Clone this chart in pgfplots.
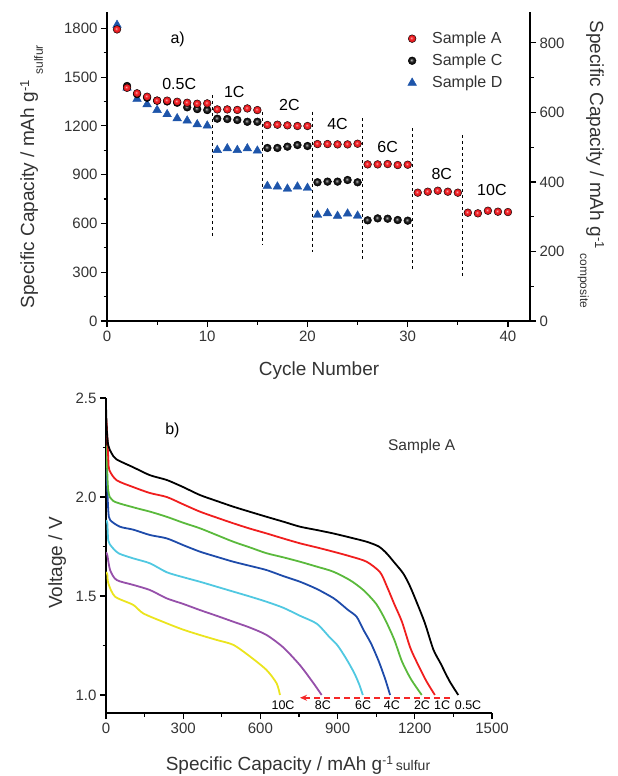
\documentclass[border=0pt]{standalone}
\usepackage{fontspec}
\setmainfont{Liberation Sans}
\usepackage{pgfplots}
\pgfplotsset{compat=1.18}
\usetikzlibrary{arrows.meta}
\definecolor{textgray}{RGB}{51,51,51}
\definecolor{aRed}{RGB}{240,30,35}
\definecolor{dBlue}{RGB}{30,85,170}
\definecolor{cOne}{RGB}{240,30,30}
\definecolor{cTwo}{RGB}{90,185,60}
\definecolor{cFour}{RGB}{30,75,170}
\definecolor{cSix}{RGB}{80,200,225}
\definecolor{cEight}{RGB}{150,80,170}
\definecolor{cTen}{RGB}{235,228,30}
\definecolor{arrowRed}{RGB}{245,40,40}

% glossy sphere marks, lighter than the stock ball shading
\pgfdeclareradialshading{redsphere}{\pgfpoint{-6bp}{6bp}}{%
  color(0bp)=(white!70!aRed); color(5bp)=(aRed!75!white); color(12bp)=(aRed);
  color(21bp)=(aRed!90!black); color(25bp)=(aRed!78!black); color(50bp)=(aRed!78!black)}
\pgfdeclareradialshading{blacksphere}{\pgfpoint{-6bp}{6bp}}{%
  color(0bp)=(white!80!black); color(5bp)=(black!55); color(12bp)=(black!85);
  color(25bp)=(black); color(50bp)=(black)}
\pgfdeclareplotmark{redsphere}{\shade[shading=redsphere] (0pt,0pt) circle (\pgfplotmarksize);}
\pgfdeclareplotmark{blacksphere}{\shade[shading=blacksphere] (0pt,0pt) circle (\pgfplotmarksize);}

\pgfplotsset{
  every axis/.append style={
    scale only axis,
    axis line style={line width=1.2pt, black},
    tick style={line width=1.1pt, black},
    tick align=outside,
    major tick length=6pt, minor tick length=3.5pt,
    tick label style={font=\fontsize{15}{18}\selectfont, text=textgray},
    /pgf/number format/assume math mode=true,
    /pgf/number format/1000 sep={},
  },
  curve/.style={line width=1.8pt, smooth, tension=0.45},
}
\newcommand{\ann}{\fontsize{16}{19}\selectfont\color{black}}
\newcommand{\lab}{\fontsize{19}{22}\selectfont\color{textgray}}

\begin{document}
\begin{tikzpicture}
\useasboundingbox (0pt,0pt) rectangle (618pt,-776pt);

% ---------- a) rate capability ----------
\begin{axis}[
  at={(107pt,-321pt)}, anchor=south west,
  width=423pt, height=309pt,
  xmin=0, xmax=42.2, ymin=0, ymax=1900,
  axis x line*=bottom, axis y line*=left,
  xtick={0,10,...,40}, minor x tick num=1,
  ytick={0,300,...,1800}, minor y tick num=1,
  reverse legend, legend cell align=left,
  legend image code/.code={\path[draw=none, fill=none] (0pt,0pt) -- (26pt,0pt);
    \draw[#1, only marks, mark repeat=2, mark phase=2] plot coordinates {(0pt,0pt) (8pt,0pt) (16pt,0pt)};},
  legend style={at={(rel axis cs:0.702,0.942)}, anchor=north west,
    draw=none, fill=none, inner sep=0pt, row sep=5pt,
    font=\fontsize{16}{19}\selectfont, text=textgray},
]
% rate-change markers
\addplot[forget plot, black, line width=0.9pt, dash pattern=on 3pt off 3pt] coordinates {(10.5,1390) (10.5,523)};
\addplot[forget plot, black, line width=0.9pt, dash pattern=on 3pt off 3pt] coordinates {(15.5,1287) (15.5,471)};
\addplot[forget plot, black, line width=0.9pt, dash pattern=on 3pt off 3pt] coordinates {(20.5,1287) (20.5,422)};
\addplot[forget plot, black, line width=0.9pt, dash pattern=on 3pt off 3pt] coordinates {(25.5,1246) (25.5,379)};
\addplot[forget plot, black, line width=0.9pt, dash pattern=on 3pt off 3pt] coordinates {(30.5,1185) (30.5,318)};
\addplot[forget plot, black, line width=0.9pt, dash pattern=on 3pt off 3pt] coordinates {(35.5,1144) (35.5,272)};

% Sample D
\addplot[only marks, mark=triangle*, mark size=5pt, color=dBlue, mark options={draw=dBlue, fill=dBlue}] coordinates {
  (1,1820) (2,1434) (3,1365) (4,1332) (5,1297) (6,1271) (7,1246) (8,1232) (9,1209) (10,1201)
  (11,1051) (12,1061) (13,1051) (14,1061) (15,1047)
  (16,830) (17,826) (18,813) (19,826) (20,818)
  (21,652) (22,662) (23,646) (24,660) (25,647)
};
\addlegendentry{Sample D}
% Sample C
\addplot[only marks, mark=blacksphere, mark size=3.9pt] coordinates {
  (2,1445) (3,1395) (4,1373) (5,1355) (6,1350) (7,1342) (8,1314) (9,1303) (10,1297)
  (11,1244) (12,1242) (13,1236) (14,1225) (15,1225)
  (16,1064) (17,1064) (18,1072) (19,1082) (20,1076)
  (21,853) (22,857) (23,857) (24,867) (25,853)
  (26,619) (27,631) (28,629) (29,621) (30,617)
};
\addlegendentry{Sample C}
% Sample A
\addplot[only marks, mark=redsphere, mark size=3.9pt] coordinates {
  (1,1793) (2,1434) (3,1400) (4,1379) (5,1355) (6,1355) (7,1348) (8,1342) (9,1336) (10,1338)
  (11,1301) (12,1301) (13,1298) (14,1307) (15,1297)
  (16,1205) (17,1207) (18,1203) (19,1199) (20,1199)
  (21,1088) (22,1088) (23,1086) (24,1086) (25,1090)
  (26,963) (27,963) (28,965) (29,959) (30,961)
  (31,789) (32,795) (33,801) (34,795) (35,789)
  (36,666) (37,662) (38,678) (39,672) (40,670)
};
\addlegendentry{Sample A}

\node[font=\ann] at (axis cs:7.05,1731) {a)};
\node[font=\ann] at (axis cs:7.2,1457) {0.5C};
\node[font=\ann] at (axis cs:12.7,1408) {1C};
\node[font=\ann] at (axis cs:18.2,1328) {2C};
\node[font=\ann] at (axis cs:23.0,1211) {4C};
\node[font=\ann] at (axis cs:28.0,1070) {6C};
\node[font=\ann] at (axis cs:33.4,904) {8C};
\node[font=\ann] at (axis cs:38.4,805) {10C};
\end{axis}

\begin{axis}[
  at={(107pt,-321pt)}, anchor=south west,
  width=423pt, height=309pt,
  xmin=0, xmax=42.2, ymin=0, ymax=889,
  axis x line=none, axis y line*=right,
  ytick={0,200,...,800}, minor y tick num=1,
]
\addplot[draw=none] coordinates {(0,0)};
\end{axis}

% ---------- b) discharge profiles ----------
\begin{axis}[
  at={(106pt,-713pt)}, anchor=south west,
  width=386pt, height=315pt,
  xmin=0, xmax=1500, ymin=0.909, ymax=2.5,
  axis x line*=bottom, axis y line*=left,
  xtick={0,300,...,1500}, minor x tick num=1,
  ytick={1.0,1.5,2.0,2.5}, minor y tick num=1,
  yticklabel style={/pgf/number format/fixed, /pgf/number format/fixed zerofill, /pgf/number format/precision=1},
]
\addplot[curve, color=cTen] coordinates {
  (0,1.62) (5,1.61) (9,1.564) (35,1.497) (106,1.455) (145,1.412) (236,1.362) (300,1.33)
  (365,1.303) (430,1.278) (495,1.253) (560,1.194) (624,1.126) (663,1.059) (676,1.0)
};
\addplot[curve, color=cEight] coordinates {
  (0,1.72) (5,1.707) (16,1.631) (41,1.581) (106,1.556) (171,1.53) (236,1.488) (300,1.46)
  (365,1.429) (430,1.40) (495,1.37) (560,1.34) (624,1.303) (689,1.24) (754,1.15) (806,1.06) (838,1.0)
};
\addplot[curve, color=cSix] coordinates {
  (0,1.88) (5,1.87) (9,1.78) (22,1.749) (50,1.715) (106,1.69) (171,1.665) (236,1.62) (300,1.595)
  (365,1.572) (430,1.547) (495,1.522) (560,1.497) (624,1.471) (690,1.44) (754,1.40) (819,1.36)
  (870,1.29) (900,1.25) (935,1.18) (965,1.11) (985,1.05) (998,1.0)
};
\addplot[curve, color=cFour] coordinates {
  (0,2.14) (3,2.10) (9,1.93) (16,1.884) (54,1.85) (106,1.835) (171,1.808) (236,1.791) (300,1.757)
  (365,1.724) (430,1.698) (495,1.673) (560,1.652) (624,1.631) (690,1.60) (754,1.572) (820,1.535)
  (883,1.49) (910,1.463) (940,1.43) (974,1.395) (1000,1.33) (1030,1.26) (1060,1.17) (1085,1.08) (1104,1.0)
};
\addplot[curve, color=cTwo] coordinates {
  (0,2.26) (3,2.20) (9,2.03) (28,1.98) (106,1.948) (171,1.926) (236,1.90) (300,1.87) (365,1.842)
  (430,1.808) (495,1.774) (560,1.745) (624,1.716) (690,1.695) (754,1.673) (820,1.648) (883,1.623)
  (948,1.58) (1000,1.53) (1050,1.46) (1085,1.38) (1120,1.28) (1150,1.17) (1185,1.08) (1227,1.0)
};
\addplot[curve, color=cOne] coordinates {
  (0,2.40) (3,2.36) (9,2.19) (13,2.136) (41,2.085) (106,2.05) (171,2.02) (236,2.0) (300,1.963)
  (365,1.926) (430,1.896) (495,1.867) (560,1.84) (624,1.816) (690,1.79) (754,1.766) (820,1.745)
  (883,1.724) (950,1.70) (1013,1.673) (1065,1.62) (1091,1.55) (1120,1.46) (1150,1.37) (1182,1.24)
  (1210,1.16) (1245,1.07) (1278,1.0)
};
\addplot[curve, color=black] coordinates {
  (0,2.46) (3,2.34) (9,2.26) (22,2.22) (41,2.19) (106,2.15) (171,2.11) (236,2.086) (300,2.05)
  (365,2.01) (430,1.98) (495,1.951) (560,1.925) (624,1.90) (690,1.875) (754,1.85) (820,1.833)
  (883,1.816) (950,1.795) (1013,1.774) (1060,1.75) (1090,1.716) (1120,1.67) (1155,1.614)
  (1181,1.55) (1210,1.46) (1240,1.36) (1272,1.23) (1300,1.16) (1335,1.07) (1369,1.0)
};
\draw[draw=arrowRed, line width=1.5pt, dash pattern=on 6pt off 4pt,
      -{Stealth[length=7pt,width=6pt,fill=arrowRed]}]
  (axis cs:1337,0.986) -- (axis cs:754,0.986);
\node[font=\fontsize{12.5}{14}\selectfont] at (axis cs:688,0.950) {10C};
\node[font=\fontsize{12.5}{14}\selectfont] at (axis cs:843,0.950) {8C};
\node[font=\fontsize{12.5}{14}\selectfont] at (axis cs:999,0.950) {6C};
\node[font=\fontsize{12.5}{14}\selectfont] at (axis cs:1111,0.950) {4C};
\node[font=\fontsize{12.5}{14}\selectfont] at (axis cs:1228,0.950) {2C};
\node[font=\fontsize{12.5}{14}\selectfont] at (axis cs:1306,0.950) {1C};
\node[font=\fontsize{12.5}{14}\selectfont] at (axis cs:1407,0.950) {0.5C};
\node[font=\ann] at (axis cs:258,2.338) {b)};
\node[font=\fontsize{15.5}{18}\selectfont\color{textgray}] at (axis cs:1227,2.254) {Sample A};
\end{axis}

% ---------- axis titles ----------
\node[font=\lab, anchor=base] at (319pt,-375pt) {Cycle Number};
\node[font=\lab, rotate=90, anchor=base west] at (34pt,-312pt)
  {Specific Capacity / mAh g\raisebox{5pt}{\fontsize{13}{15}\selectfont -1}\hspace{6pt}\raisebox{-9pt}{\fontsize{12}{14}\selectfont sulfur}};
\node[font=\lab, rotate=-90, anchor=base west] at (590pt,-17pt)
  {Specific Capacity / mAh g\raisebox{5pt}{\fontsize{13}{15}\selectfont -1}\hspace{5pt}\raisebox{-10pt}{\fontsize{12}{14}\selectfont composite}};
\node[font=\lab, rotate=90, anchor=base] at (62pt,-563pt) {Voltage / V};
\node[font=\lab, anchor=base] at (298pt,-770pt)
  {Specific Capacity / mAh g\raisebox{6pt}{\fontsize{12}{14}\selectfont -1}\hspace{3pt}{\fontsize{14}{16}\selectfont sulfur}};
\end{tikzpicture}
\end{document}
